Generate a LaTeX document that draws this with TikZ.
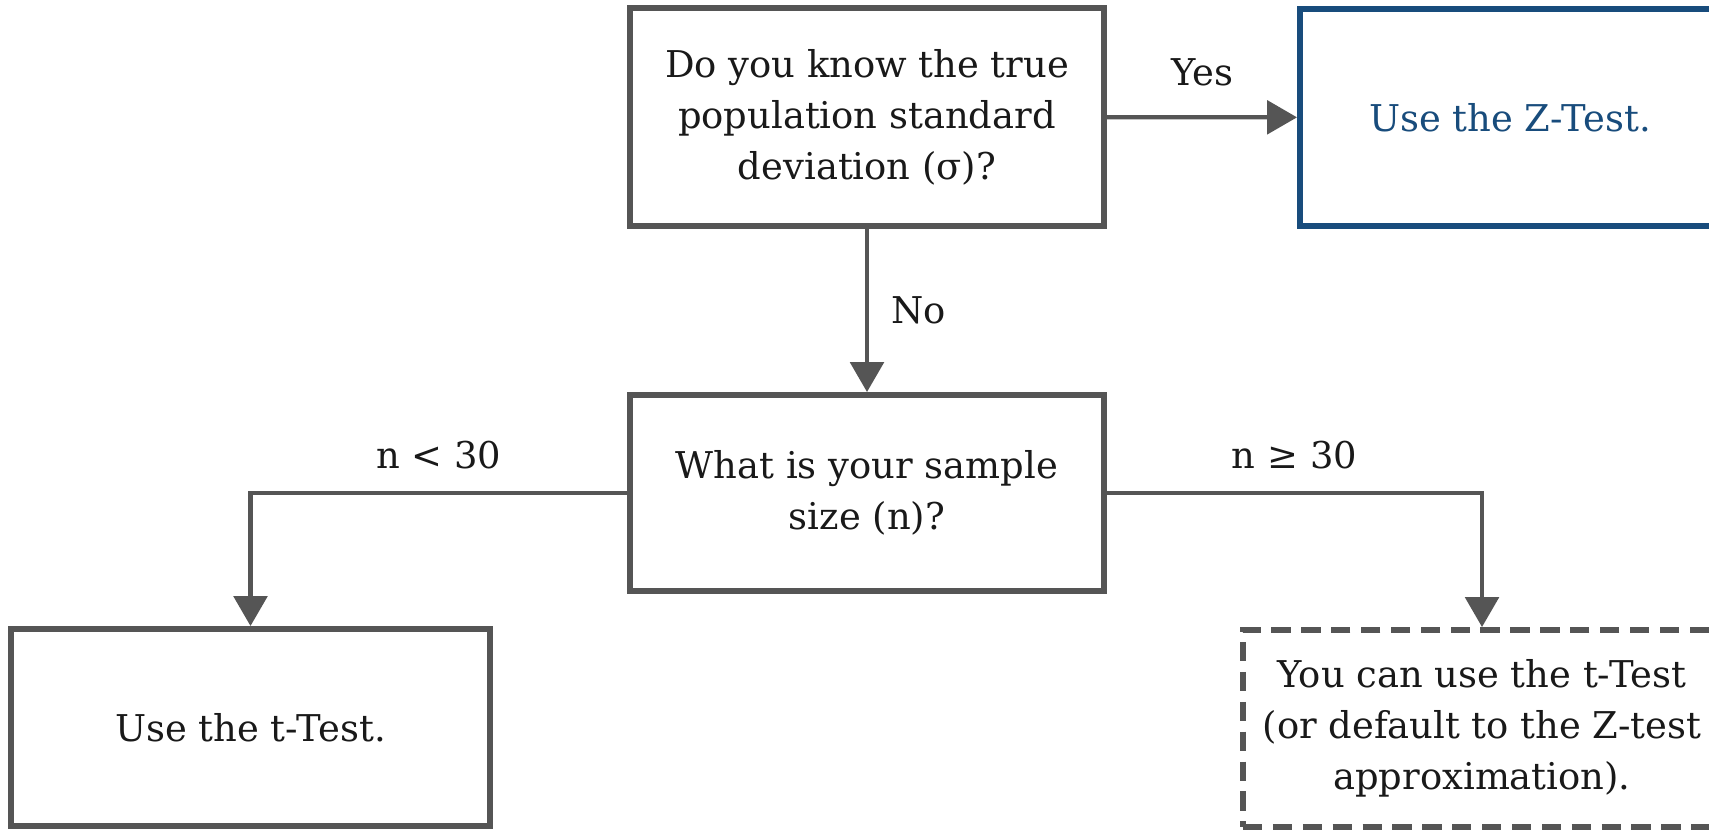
\documentclass[tikz,border=0pt]{standalone}
\usepackage{fontspec}
\setmainfont{DejaVu Serif}
\usepackage{tikz}
\usetikzlibrary{arrows.meta, positioning}
\definecolor{linegray}{RGB}{85,85,85}
\definecolor{zblue}{RGB}{24,76,124}
\begin{document}
\begin{tikzpicture}[every node/.style={font=\fontsize{10.5}{14.5}\selectfont, align=center, text=black!90},
  box/.style={draw=linegray, line width=1.7pt, minimum width=4.74cm, minimum height=2cm},
  flow/.style={draw=linegray, line width=1.2pt, -{Triangle[length=8.5pt, width=9.5pt]}}]
  \useasboundingbox (0,0) rectangle (17.09,-8.30);
  \fill[white] (0,0) rectangle (17.09,-8.30);
  % questions
  \node[box, minimum height=2.18cm] (known) at (8.67,-1.17) {Do you know the true\\population standard\\deviation (σ)?};
  \node[box, minimum height=1.96cm] (size) at (8.67,-4.93) {What is your sample\\size (n)?};
  % answers
  \node[box, draw=zblue, text=zblue, minimum width=4.2cm, minimum height=2.17cm] (ztest) at (15.10,-1.175) {Use the Z-Test.};
  \node[box, minimum width=4.79cm, minimum height=1.97cm] (ttest) at (2.505,-7.275) {Use the t-Test.};
  \node[box, dash pattern=on 5.5pt off 3pt, minimum width=4.78cm, minimum height=1.97cm] (either) at (14.82,-7.285) {You can use the t-Test\\(or default to the Z-test\\approximation).};
  % connectors
  \draw[flow] (known) -- node[above=5pt] {Yes} (ztest);
  \draw[flow] (known) -- node[right=3pt] {No} (size);
  \draw[flow] (size.west) -| node[pos=0.25, above=3pt] {n < 30} (ttest.north);
  \draw[flow] (size.east) -| node[pos=0.25, above=3pt] {n ≥ 30} (either.north);
\end{tikzpicture}
\end{document}
